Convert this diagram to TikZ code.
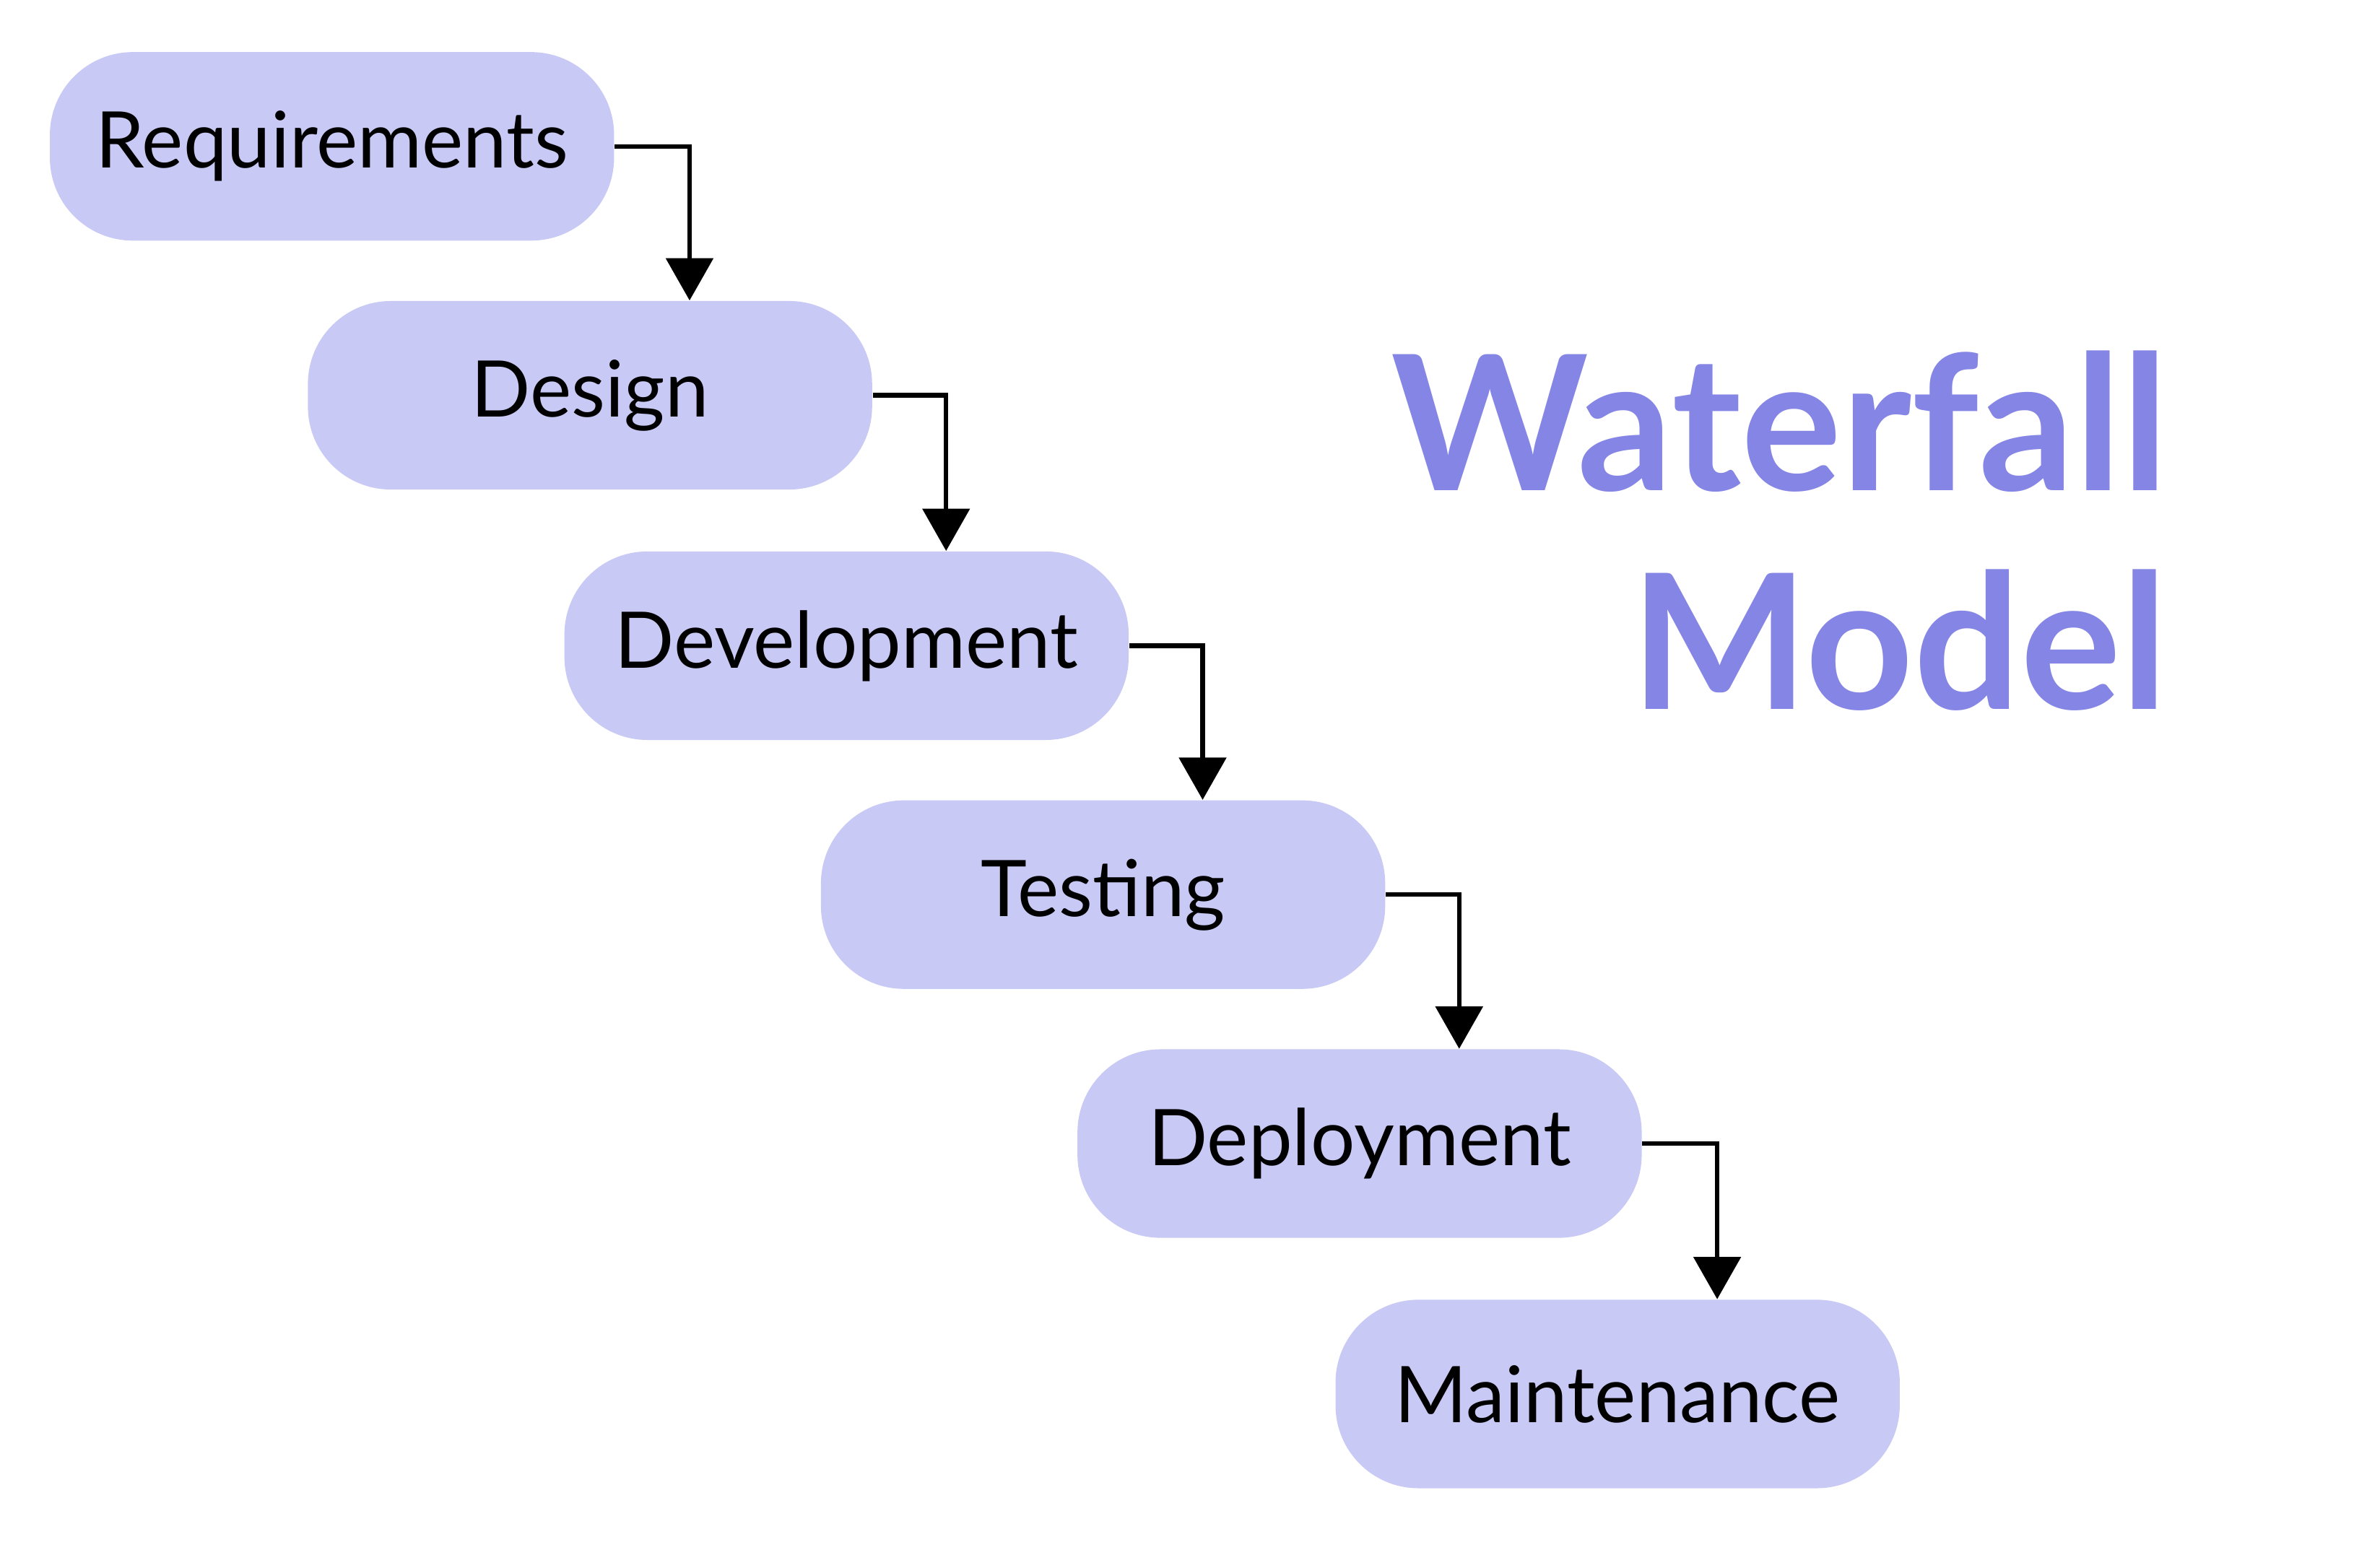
\documentclass[tikz,border=0pt]{standalone}
\usepackage{fontspec}
\setmainfont{Lato}
\usetikzlibrary{arrows.meta}
\definecolor{boxfill}{HTML}{C9C9F5}
\definecolor{titlec}{HTML}{8585E6}
\begin{document}
\begin{tikzpicture}[x=0.02cm,y=-0.02cm,
  phase/.style={fill=boxfill,draw=none,rounded corners=1.1cm,minimum width=7.48cm,minimum height=2.5cm,font=\fontsize{29.5}{34}\selectfont,inner sep=0pt},
  flow/.style={line width=0.06cm,-{Triangle[width=0.62cm,length=0.56cm]}},
  ttl/.style={anchor=base east,text=titlec,font=\fontsize{71}{80}\selectfont\bfseries,inner sep=0pt}]
\useasboundingbox (0,0) rectangle (1560,1039);
\node[phase] (a) at (220,97) {Requirements};
\node[phase] (b) at (391,262) {Design};
\node[phase] (c) at (561,428) {Development};
\node[phase] (d) at (731,593) {Testing};
\node[phase] (e) at (901,758) {Deployment};
\node[phase] (f) at (1072,924) {Maintenance};
\foreach \p/\q in {a/b,b/c,c/d,d/e,e/f}
  \draw[flow] (\p.east) -| ([xshift=1.32cm]\q.north);
\node[ttl] (t1) at (1437,325) {Waterfall};
\node[ttl] (t2) at (1437,470) {Model};
\end{tikzpicture}
\end{document}
